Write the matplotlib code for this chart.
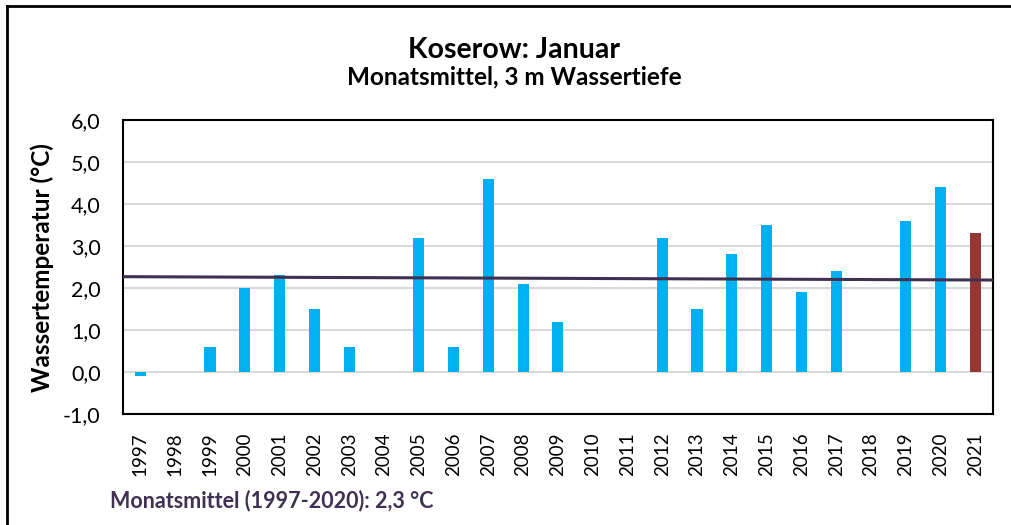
import matplotlib.pyplot as plt
from matplotlib.lines import Line2D

plt.rcParams['font.family'] = ['Lato', 'DejaVu Sans']

years = ["1997", "1998", "1999", "2000", "2001", "2002", "2003", "2004", "2005",
         "2006", "2007", "2008", "2009", "2010", "2011", "2012", "2013", "2014",
         "2015", "2016", "2017", "2018", "2019", "2020", "2021"]
temps = [-0.1, None, 0.6, 2.0, 2.3, 1.5, 0.6, None, 3.2,
         0.6, 4.6, 2.1, 1.2, None, None, 3.2, 1.5, 2.8,
         3.5, 1.9, 2.4, None, 3.6, 4.4, 3.3]
trend_ends = [2.27, 2.19]
yticks = [-1, 0, 1, 2, 3, 4, 5, 6]

blue = "#00b0f0"
red = "#953735"
purple = "#403152"

fig = plt.figure(figsize=(10.12, 5.25), dpi=100)
ax = fig.add_axes([0.1215, 0.2114, 0.8595, 0.56])

x = list(range(len(years)))
vals = [v if v is not None else 0 for v in temps]
colors = [blue] * (len(years) - 1) + [red]
ax.bar(x, vals, width=0.32, color=colors, zorder=2)

ax.plot([-0.5, len(years) - 0.5], trend_ends, color=purple, lw=2.2, zorder=3)

ax.set_xlim(-0.5, len(years) - 0.5)
ax.set_ylim(-1, 6)
ax.set_yticks(yticks)
ax.set_yticklabels([f"{v:.1f}".replace(".", ",") for v in yticks], fontsize=15.5)
ax.set_xticks(x)
ax.set_xticklabels(years, rotation=90, fontsize=13.5)
ax.tick_params(axis="y", length=0, pad=16)
ax.tick_params(axis="x", length=0, pad=13)

for v in yticks[1:-1]:
    ax.axhline(v, color="#d9d9d9", lw=1.5, zorder=1)
for s in ax.spines.values():
    s.set_linewidth(1.5)
    s.set_color("black")

fig.text(0.042, 0.491, "Wassertemperatur (°C)", rotation=90, ha="center", va="center",
         fontsize=17.5, fontweight="bold")

fig.text(0.508, 0.905, "Koserow: Januar", ha="center", va="center",
         fontsize=20.5, fontweight="bold")
fig.text(0.508, 0.853, "Monatsmittel, 3 m Wassertiefe", ha="center", va="center",
         fontsize=17.5, fontweight="bold")
fig.text(0.109, 0.046, "Monatsmittel (1997-2020): 2,3 °C", ha="left", va="center",
         fontsize=15.5, fontweight="bold", color=purple)

# outer chart frame (top and left edges visible)
fig.add_artist(Line2D([0.007, 1.0], [0.988, 0.988], color="black", lw=2,
                      transform=fig.transFigure))
fig.add_artist(Line2D([0.007, 0.007], [0.0, 0.988], color="black", lw=2,
                      transform=fig.transFigure))

fig.savefig("out.png", dpi=100)
